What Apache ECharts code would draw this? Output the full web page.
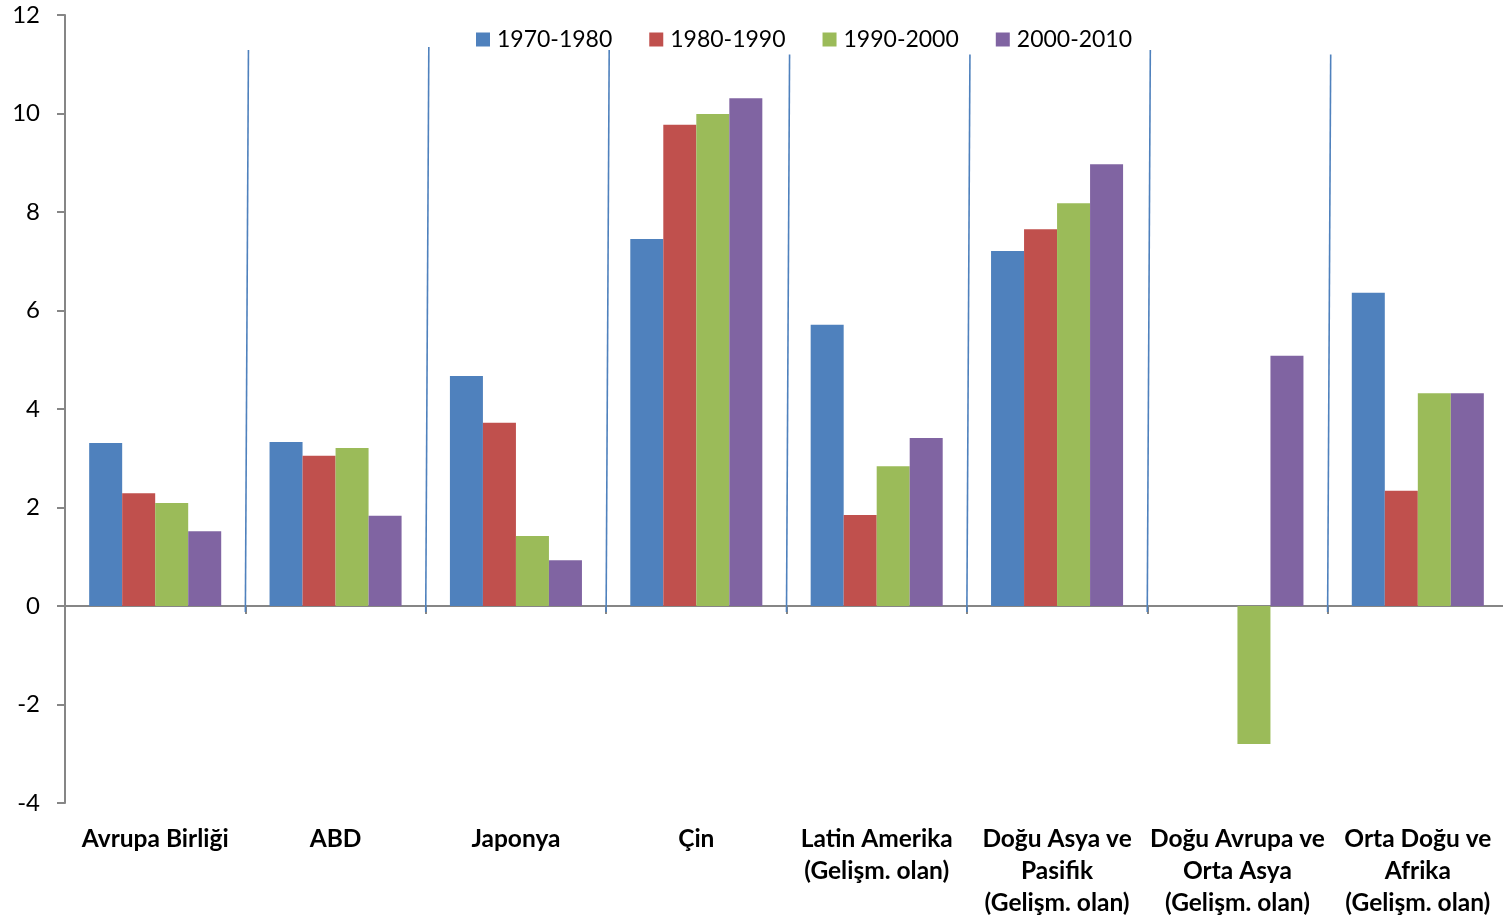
<!DOCTYPE html>
<html>
<head>
<meta charset="utf-8">
<script src="https://cdn.jsdelivr.net/npm/echarts@6/dist/echarts.min.js"></script>
<style>
html,body{margin:0;padding:0;background:#fff;overflow:hidden;}
#c{width:1510px;height:919px;}
</style>
</head>
<body>
<div id="c"></div>
<script>
const categories = ['Avrupa Birliği', 'ABD', 'Japonya', 'Çin', 'Latin Amerika\n(Gelişm. olan)', 'Doğu Asya ve\nPasifik\n(Gelişm. olan)', 'Doğu Avrupa ve\nOrta Asya\n(Gelişm. olan)', 'Orta Doğu ve\nAfrika\n(Gelişm. olan)'];
const seriesNames = ['1970-1980', '1980-1990', '1990-2000', '2000-2010'];
const s1970 = [3.31, 3.33, 4.67, 7.45, 5.71, 7.21, null, 6.36];
const s1980 = [2.29, 3.05, 3.72, 9.77, 1.85, 7.65, null, 2.34];
const s1990 = [2.09, 3.21, 1.42, 9.99, 2.84, 8.18, -2.80, 4.32];
const s2000 = [1.52, 1.83, 0.93, 10.31, 3.41, 8.97, 5.08, 4.32];
const yTicks = [-4, -2, 0, 2, 4, 6, 8, 10, 12];
// separator lines between category groups: top value of each
const separatorTops = [11.29, 11.35, 11.29, 11.2, 11.2, 11.29, 11.2];
const separatorBottom = -0.12;

const colors = ['#4F81BD', '#C0504D', '#9BBB59', '#8064A2'];
const values = [s1970, s1980, s1990, s2000];
const font = 'Lato, "Open Sans", sans-serif';

const chart = echarts.init(document.getElementById('c'));
const barSeries = seriesNames.map((n, i) => ({
  name: n, type: 'bar', xAxisIndex: 0, yAxisIndex: 0,
  data: values[i].map(v => v === null ? '-' : v),
  itemStyle: { color: colors[i] },
  barGap: '0%', barCategoryGap: '26.8%',
  animation: false
}));
const sepData = separatorTops.map((t, i) => ({
  coords: [[i + 1 + 0.017, t], [i + 1, separatorBottom]]
}));

chart.setOption({
  animation: false,
  color: colors,
  legend: {
    data: seriesNames,
    left: 476, top: 28, padding: 0,
    itemWidth: 14, itemHeight: 14, itemGap: 37,
    icon: 'rect',
    textStyle: { fontFamily: font, fontSize: 23, color: '#000', padding: [0, 0, 0, 2] }
  },
  grid: { left: 65, right: 2, top: 15, bottom: 116 },
  xAxis: [
    {
      type: 'category', data: categories, position: 'bottom',
      axisLine: { onZero: true, lineStyle: { color: '#868686', width: 2 } },
      axisTick: { show: true, length: 8, lineStyle: { color: '#868686', width: 2 } },
      axisLabel: { show: false }
    },
    {
      type: 'category', data: categories, position: 'bottom',
      axisLine: { show: false, onZero: false },
      axisTick: { show: false },
      axisLabel: { interval: 0, margin: 20, fontFamily: font, fontWeight: 'bold', fontSize: 24.5, color: '#000', lineHeight: 32 }
    },
    {
      type: 'value', min: 0, max: 8, show: false
    }
  ],
  yAxis: {
    type: 'value', min: -4, max: 12, interval: 2,
    axisLine: { show: true, lineStyle: { color: '#868686', width: 2 } },
    axisTick: { show: true, length: 8, lineStyle: { color: '#868686', width: 2 } },
    splitLine: { show: false },
    axisLabel: {
      margin: 25, fontFamily: font, fontSize: 24, color: '#000',
      formatter: v => yTicks.includes(v) ? String(v) : ''
    }
  },
  series: barSeries.concat([{
    type: 'lines', coordinateSystem: 'cartesian2d', xAxisIndex: 2, yAxisIndex: 0,
    data: sepData, silent: true,
    lineStyle: { color: '#4F81BD', width: 1.6, opacity: 1 },
    animation: false
  }])
});
</script>
</body>
</html>
